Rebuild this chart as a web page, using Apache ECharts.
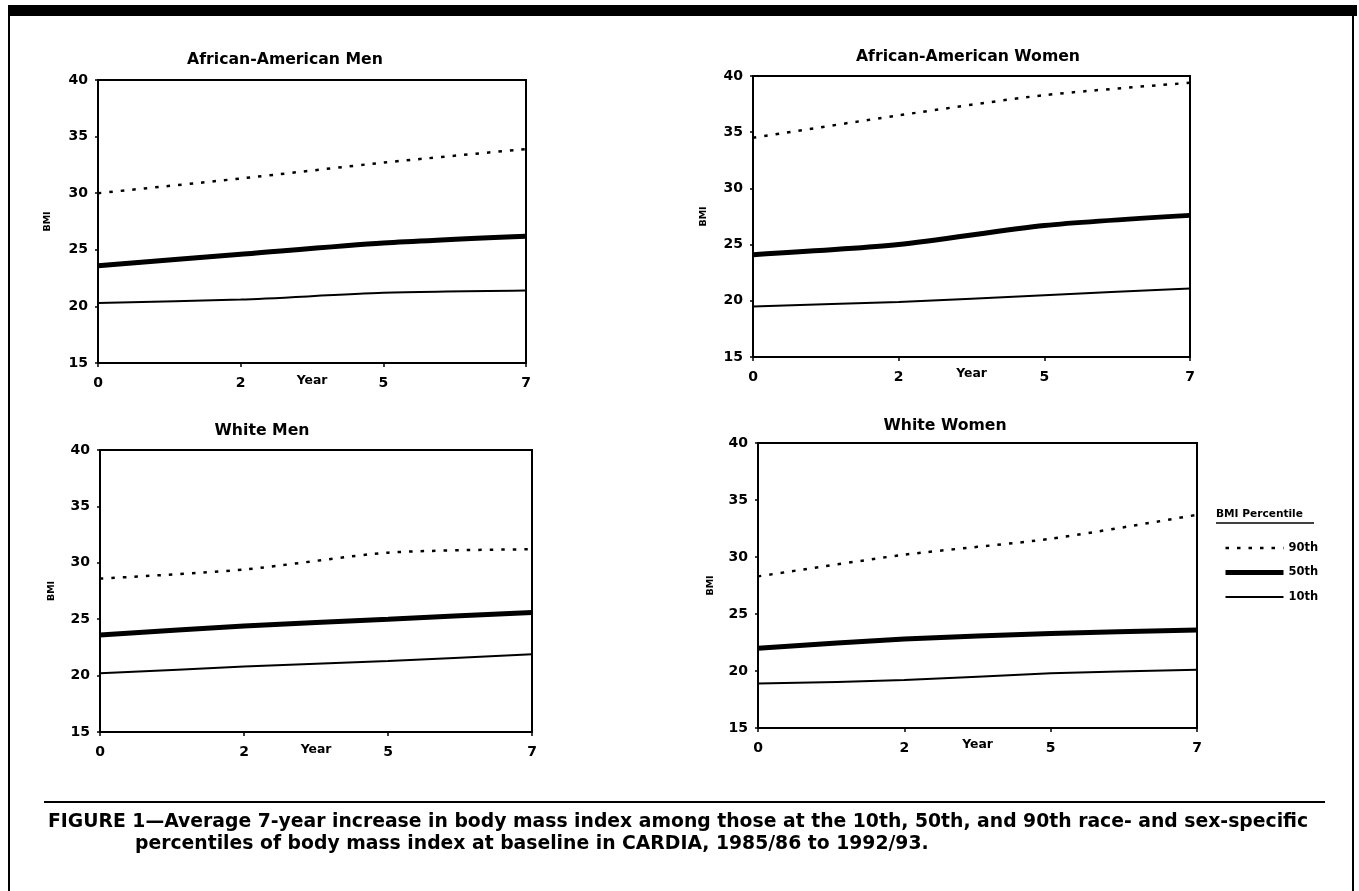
<!DOCTYPE html>
<html>
<head>
<meta charset="utf-8">
<script src="https://cdn.jsdelivr.net/npm/echarts@6/dist/echarts.min.js"></script>
<style>
html,body{margin:0;padding:0;background:#fff;}
#chart{width:1359px;height:891px;}
</style>
</head>
<body>
<div id="chart"></div>
<script>
// ---- data ----
const years = ['0', '2', '5', '7'];
const yTicks = [15, 20, 25, 30, 35, 40];
const panelTitles = ['African-American Men', 'African-American Women', 'White Men', 'White Women'];
const percentileNames = ['90th', '50th', '10th'];

const aaMen90 = [30.0, 31.3, 32.7, 33.9];
const aaMen50 = [23.6, 24.6, 25.6, 26.2];
const aaMen10 = [20.3, 20.6, 21.2, 21.4];

const aaWomen90 = [34.5, 36.5, 38.3, 39.4];
const aaWomen50 = [24.1, 25.0, 26.7, 27.6];
const aaWomen10 = [19.5, 19.9, 20.5, 21.1];

const whMen90 = [28.6, 29.4, 30.9, 31.2];
const whMen50 = [23.6, 24.4, 25.0, 25.6];
const whMen10 = [20.2, 20.8, 21.3, 21.9];

const whWomen90 = [28.3, 30.2, 31.6, 33.7];
const whWomen50 = [22.0, 22.8, 23.3, 23.6];
const whWomen10 = [18.9, 19.2, 19.8, 20.1];

const captionLine1 = 'FIGURE 1\u2014Average 7-year increase in body mass index among those at the 10th, 50th, and 90th race- and sex-specific';
const captionLine2 = 'percentiles of body mass index at baseline in CARDIA, 1985/86 to 1992/93.';

const panelData = [
  [aaMen90, aaMen50, aaMen10],
  [aaWomen90, aaWomen50, aaWomen10],
  [whMen90, whMen50, whMen10],
  [whWomen90, whWomen50, whWomen10]
];

// ---- layout / style ----
const FONT = '"DejaVu Sans", Verdana, sans-serif';
const grids = [
  {left: 98, top: 80, width: 428, height: 283},
  {left: 753, top: 76, width: 437, height: 281},
  {left: 100, top: 450, width: 432, height: 282},
  {left: 758, top: 443, width: 439, height: 285}
];
const titlePos = [[285, 52], [968, 49], [262, 423], [945, 418]];
const bmiGap = [45, 44, 43, 42];
const yearGap = [12, 11, 12, 11];

const lineStyles = [
  {width: 2.5, type: [3.5, 8], color: '#000'},
  {width: 5, type: 'solid', color: '#000'},
  {width: 2, type: 'solid', color: '#000'}
];

const chart = echarts.init(document.getElementById('chart'), null, {renderer: 'canvas'});

const option = {
  backgroundColor: '#fff',
  animation: false,
  title: panelTitles.map((t, i) => ({
    text: t,
    left: titlePos[i][0],
    top: titlePos[i][1],
    padding: 0,
    textAlign: 'center',
    textStyle: {fontFamily: FONT, fontWeight: 'bold', fontSize: 15.7, color: '#000'}
  })),
  legend: {
    data: percentileNames.map((n, i) => ({name: n, lineStyle: {width: lineStyles[i].width, type: lineStyles[i].type, color: '#000'}})),
    orient: 'vertical',
    left: 1223,
    top: 542,
    itemWidth: 58,
    itemHeight: 14,
    itemGap: 12.5,
    padding: 0,
    itemStyle: {opacity: 0},
    textStyle: {fontFamily: FONT, fontWeight: 'bold', fontSize: 11.5, color: '#000'},
    selectedMode: false
  },
  grid: grids.map(g => Object.assign({show: true, borderColor: '#000', borderWidth: 2, backgroundColor: '#fff'}, g)),
  xAxis: grids.map((g, i) => ({
    type: 'category',
    gridIndex: i,
    data: years,
    boundaryGap: false,
    name: 'Year',
    nameLocation: 'middle',
    nameGap: yearGap[i],
    nameMoveOverlap: false,
    nameTextStyle: {fontFamily: FONT, fontWeight: 'bold', fontSize: 12.4, color: '#000'},
    axisLine: {lineStyle: {color: '#000', width: 2}},
    axisTick: {show: true, length: 4, lineStyle: {color: '#000', width: 1.5}},
    axisLabel: {fontFamily: FONT, fontWeight: 'bold', fontSize: 14, color: '#000', margin: 13},
    splitLine: {show: false}
  })),
  yAxis: grids.map((g, i) => ({
    type: 'value',
    gridIndex: i,
    min: yTicks[0],
    max: yTicks[yTicks.length - 1],
    interval: 5,
    name: 'BMI',
    nameLocation: 'middle',
    nameRotate: 90,
    nameGap: bmiGap[i],
    nameMoveOverlap: false,
    nameTextStyle: {fontFamily: FONT, fontWeight: 'bold', fontSize: 9.5, color: '#000'},
    axisLine: {show: true, lineStyle: {color: '#000', width: 2}},
    axisTick: {show: true, length: 3, lineStyle: {color: '#000', width: 1.5}},
    axisLabel: {fontFamily: FONT, fontWeight: 'bold', fontSize: 14, color: '#000', margin: 10},
    splitLine: {show: false}
  })),
  series: [],
  graphic: [
    // frame
    {type: 'rect', shape: {x: 8, y: 5, width: 1349, height: 11}, style: {fill: '#000'}, silent: true},
    {type: 'line', shape: {x1: 9, y1: 5, x2: 9, y2: 891}, style: {stroke: '#000', lineWidth: 2}, silent: true},
    {type: 'line', shape: {x1: 1353, y1: 5, x2: 1353, y2: 891}, style: {stroke: '#000', lineWidth: 2}, silent: true},
    // rule above caption
    {type: 'line', shape: {x1: 44, y1: 802, x2: 1325, y2: 802}, style: {stroke: '#000', lineWidth: 2}, silent: true},
    // caption
    {type: 'text', left: 48, top: 813, style: {text: captionLine1, fill: '#000', font: 'bold 18.8px ' + FONT}, silent: true},
    {type: 'text', left: 135, top: 835, style: {text: captionLine2, fill: '#000', font: 'bold 18.8px ' + FONT}, silent: true},
    // legend title
    {type: 'text', left: 1216, top: 509, style: {text: 'BMI Percentile', fill: '#000', font: 'bold 10.6px ' + FONT}, silent: true},
    {type: 'line', shape: {x1: 1216, y1: 523, x2: 1314, y2: 523}, style: {stroke: '#000', lineWidth: 1.5}, silent: true}
  ]
};

panelData.forEach((arrs, gi) => {
  arrs.forEach((vals, si) => {
    option.series.push({
      type: 'line',
      name: percentileNames[si],
      xAxisIndex: gi,
      yAxisIndex: gi,
      data: vals,
      symbol: 'none',
      smooth: 0.25,
      lineStyle: lineStyles[si],
      itemStyle: {color: '#000'},
      z: 3
    });
  });
});

chart.setOption(option);
</script>
</body>
</html>
